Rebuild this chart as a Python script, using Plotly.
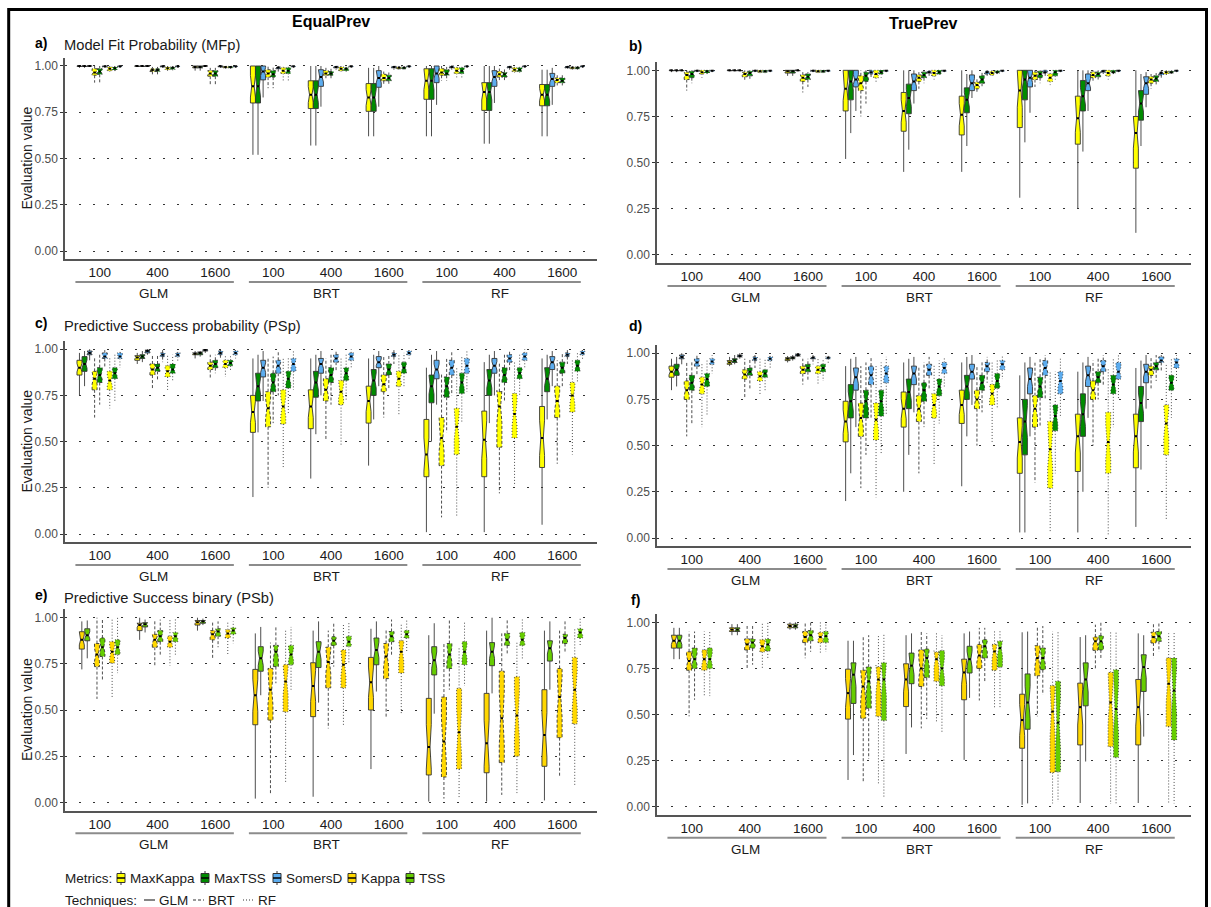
import plotly.graph_objects as go

# ---------------- data ----------------
SIZES = ["100", "400", "1600"]
MODELS = ["GLM", "BRT", "RF"]
TECHNIQUES = ["GLM", "BRT", "RF"]          # line types inside each x group
METRICS_PROB = ["MaxKappa", "MaxTSS", "SomersD"]
METRICS_BIN = ["Kappa", "TSS"]

# each list: 9 x groups (GLM100 ... RF1600); per group 3 techniques (GLM, BRT, RF)
# each tuple: (lower whisker, Q1, median, Q3, upper whisker)
A_MAXKAPPA = [
    [(0.99, 0.998, 1.0, 1.0, 1.0), (0.91, 0.95, 0.965, 0.985, 1.0), (0.96, 0.975, 0.985, 0.995, 1.0)],
    [(0.995, 0.998, 1.0, 1.0, 1.0), (0.955, 0.97, 0.978, 0.985, 0.995), (0.97, 0.98, 0.988, 0.995, 1.0)],
    [(0.975, 0.99, 0.995, 1.0, 1.0), (0.90, 0.945, 0.96, 0.975, 0.99), (0.985, 0.99, 0.995, 0.998, 1.0)],
    [(0.52, 0.80, 0.89, 1.0, 1.0), (0.88, 0.94, 0.96, 0.98, 1.0), (0.92, 0.96, 0.975, 0.99, 1.0)],
    [(0.57, 0.77, 0.845, 0.92, 1.0), (0.93, 0.95, 0.96, 0.975, 0.99), (0.96, 0.975, 0.985, 0.995, 1.0)],
    [(0.62, 0.755, 0.83, 0.905, 0.99), (0.90, 0.92, 0.935, 0.955, 0.97), (0.975, 0.985, 0.99, 0.995, 1.0)],
    [(0.62, 0.82, 0.92, 0.985, 1.0), (0.92, 0.95, 0.965, 0.985, 1.0), (0.93, 0.96, 0.975, 0.99, 1.0)],
    [(0.58, 0.76, 0.86, 0.91, 1.0), (0.92, 0.94, 0.955, 0.97, 0.99), (0.96, 0.97, 0.98, 0.99, 1.0)],
    [(0.62, 0.785, 0.845, 0.90, 0.98), (0.895, 0.91, 0.925, 0.935, 0.95), (0.98, 0.985, 0.99, 0.995, 1.0)],
]
A_MAXTSS = [
    [(0.99, 0.998, 1.0, 1.0, 1.0), (0.91, 0.955, 0.97, 0.985, 1.0), (0.965, 0.978, 0.988, 0.995, 1.0)],
    [(0.995, 0.998, 1.0, 1.0, 1.0), (0.955, 0.97, 0.978, 0.985, 0.995), (0.97, 0.982, 0.99, 0.995, 1.0)],
    [(0.975, 0.99, 0.995, 1.0, 1.0), (0.90, 0.945, 0.96, 0.975, 0.99), (0.985, 0.99, 0.995, 0.998, 1.0)],
    [(0.52, 0.80, 0.89, 1.0, 1.0), (0.88, 0.94, 0.955, 0.975, 0.995), (0.92, 0.96, 0.975, 0.99, 1.0)],
    [(0.57, 0.77, 0.845, 0.92, 1.0), (0.93, 0.95, 0.96, 0.97, 0.985), (0.96, 0.975, 0.985, 0.99, 1.0)],
    [(0.62, 0.755, 0.83, 0.905, 0.99), (0.90, 0.92, 0.935, 0.95, 0.965), (0.975, 0.985, 0.99, 0.995, 1.0)],
    [(0.62, 0.82, 0.92, 0.985, 1.0), (0.92, 0.95, 0.96, 0.98, 0.995), (0.93, 0.96, 0.975, 0.99, 1.0)],
    [(0.58, 0.76, 0.86, 0.91, 1.0), (0.92, 0.94, 0.955, 0.965, 0.985), (0.96, 0.97, 0.98, 0.99, 1.0)],
    [(0.62, 0.785, 0.845, 0.90, 0.98), (0.895, 0.91, 0.92, 0.935, 0.95), (0.98, 0.985, 0.99, 0.995, 1.0)],
]
A_SOMERSD = [
    [(0.998, 0.999, 1.0, 1.0, 1.0), (0.99, 0.995, 0.998, 1.0, 1.0), (0.99, 0.995, 0.998, 1.0, 1.0)],
    [(0.998, 0.999, 1.0, 1.0, 1.0), (0.99, 0.995, 0.998, 1.0, 1.0), (0.99, 0.995, 0.998, 1.0, 1.0)],
    [(0.998, 0.999, 1.0, 1.0, 1.0), (0.99, 0.995, 0.998, 1.0, 1.0), (0.99, 0.995, 0.998, 1.0, 1.0)],
    [(0.83, 0.925, 0.97, 1.0, 1.0), (0.97, 0.985, 0.99, 0.995, 1.0), (0.99, 0.995, 0.998, 1.0, 1.0)],
    [(0.78, 0.89, 0.94, 0.98, 1.0), (0.98, 0.99, 0.995, 0.998, 1.0), (0.99, 0.995, 0.998, 1.0, 1.0)],
    [(0.78, 0.885, 0.935, 0.975, 1.0), (0.98, 0.99, 0.995, 0.998, 1.0), (0.99, 0.995, 0.998, 1.0, 1.0)],
    [(0.79, 0.91, 0.96, 1.0, 1.0), (0.98, 0.99, 0.995, 1.0, 1.0), (0.99, 0.995, 0.998, 1.0, 1.0)],
    [(0.80, 0.89, 0.94, 0.975, 1.0), (0.98, 0.99, 0.995, 0.998, 1.0), (0.99, 0.995, 0.998, 1.0, 1.0)],
    [(0.79, 0.89, 0.93, 0.96, 0.99), (0.985, 0.99, 0.995, 0.998, 1.0), (0.99, 0.995, 0.998, 1.0, 1.0)],
]

B_MAXKAPPA = [
    [(0.99, 0.998, 1.0, 1.0, 1.0), (0.89, 0.95, 0.975, 0.99, 1.0), (0.96, 0.98, 0.99, 1.0, 1.0)],
    [(0.995, 0.998, 1.0, 1.0, 1.0), (0.94, 0.965, 0.98, 0.99, 1.0), (0.98, 0.99, 0.995, 1.0, 1.0)],
    [(0.97, 0.985, 0.995, 1.0, 1.0), (0.88, 0.94, 0.96, 0.975, 0.99), (0.985, 0.99, 0.995, 1.0, 1.0)],
    [(0.52, 0.78, 0.90, 1.0, 1.0), (0.75, 0.89, 0.93, 0.97, 1.0), (0.93, 0.96, 0.98, 1.0, 1.0)],
    [(0.45, 0.67, 0.78, 0.88, 1.0), (0.90, 0.94, 0.96, 0.975, 0.99), (0.95, 0.97, 0.985, 1.0, 1.0)],
    [(0.45, 0.65, 0.76, 0.86, 1.0), (0.88, 0.90, 0.92, 0.935, 0.96), (0.96, 0.975, 0.985, 0.995, 1.0)],
    [(0.31, 0.69, 0.89, 1.0, 1.0), (0.91, 0.95, 0.97, 0.99, 1.0), (0.92, 0.94, 0.96, 0.98, 1.0)],
    [(0.25, 0.60, 0.74, 0.86, 1.0), (0.94, 0.96, 0.975, 0.99, 1.0), (0.95, 0.97, 0.985, 1.0, 1.0)],
    [(0.12, 0.47, 0.66, 0.75, 1.0), (0.90, 0.93, 0.95, 0.965, 0.98), (0.97, 0.98, 0.99, 0.995, 1.0)],
]
B_MAXTSS = [
    [(0.99, 0.998, 1.0, 1.0, 1.0), (0.93, 0.96, 0.98, 0.995, 1.0), (0.97, 0.985, 0.995, 1.0, 1.0)],
    [(0.995, 0.998, 1.0, 1.0, 1.0), (0.95, 0.97, 0.985, 0.995, 1.0), (0.98, 0.99, 0.995, 1.0, 1.0)],
    [(0.97, 0.985, 0.995, 1.0, 1.0), (0.91, 0.95, 0.965, 0.98, 0.99), (0.985, 0.99, 0.995, 1.0, 1.0)],
    [(0.66, 0.84, 0.94, 1.0, 1.0), (0.82, 0.94, 0.97, 0.99, 1.0), (0.96, 0.98, 0.99, 1.0, 1.0)],
    [(0.57, 0.765, 0.85, 0.925, 1.0), (0.93, 0.96, 0.975, 0.99, 1.0), (0.97, 0.98, 0.99, 1.0, 1.0)],
    [(0.59, 0.77, 0.84, 0.905, 0.98), (0.91, 0.93, 0.95, 0.97, 0.99), (0.97, 0.985, 0.99, 0.998, 1.0)],
    [(0.61, 0.84, 0.95, 1.0, 1.0), (0.93, 0.96, 0.98, 0.995, 1.0), (0.95, 0.97, 0.99, 1.0, 1.0)],
    [(0.56, 0.78, 0.86, 0.945, 1.0), (0.95, 0.965, 0.98, 0.99, 1.0), (0.97, 0.985, 0.99, 1.0, 1.0)],
    [(0.59, 0.73, 0.82, 0.89, 0.98), (0.92, 0.94, 0.955, 0.97, 0.985), (0.98, 0.985, 0.99, 0.995, 1.0)],
]
B_SOMERSD = [
    [(0.995, 0.998, 1.0, 1.0, 1.0), (0.99, 0.995, 0.998, 1.0, 1.0), (0.99, 0.995, 0.998, 1.0, 1.0)],
    [(0.995, 0.998, 1.0, 1.0, 1.0), (0.99, 0.995, 0.998, 1.0, 1.0), (0.99, 0.995, 0.998, 1.0, 1.0)],
    [(0.995, 0.998, 1.0, 1.0, 1.0), (0.99, 0.995, 0.998, 1.0, 1.0), (0.99, 0.995, 0.998, 1.0, 1.0)],
    [(0.78, 0.91, 0.95, 1.0, 1.0), (0.96, 0.98, 0.99, 1.0, 1.0), (0.99, 0.995, 0.998, 1.0, 1.0)],
    [(0.82, 0.89, 0.94, 0.98, 1.0), (0.97, 0.985, 0.99, 0.995, 1.0), (0.99, 0.995, 0.998, 1.0, 1.0)],
    [(0.85, 0.89, 0.93, 0.975, 1.0), (0.97, 0.98, 0.99, 0.995, 1.0), (0.99, 0.995, 0.998, 1.0, 1.0)],
    [(0.77, 0.91, 0.96, 1.0, 1.0), (0.97, 0.985, 0.99, 1.0, 1.0), (0.99, 0.995, 0.998, 1.0, 1.0)],
    [(0.78, 0.89, 0.93, 0.98, 1.0), (0.98, 0.99, 0.995, 1.0, 1.0), (0.99, 0.995, 0.998, 1.0, 1.0)],
    [(0.80, 0.87, 0.93, 0.965, 0.99), (0.96, 0.975, 0.985, 0.99, 1.0), (0.99, 0.995, 0.998, 1.0, 1.0)],
]

C_MAXKAPPA = [
    [(0.75, 0.86, 0.90, 0.94, 0.98), (0.63, 0.78, 0.84, 0.88, 0.96), (0.68, 0.78, 0.83, 0.88, 0.96)],
    [(0.92, 0.94, 0.955, 0.965, 0.98), (0.78, 0.86, 0.89, 0.92, 0.97), (0.78, 0.85, 0.88, 0.91, 0.97)],
    [(0.95, 0.97, 0.975, 0.98, 0.99), (0.84, 0.89, 0.91, 0.93, 0.97), (0.85, 0.90, 0.92, 0.94, 0.97)],
    [(0.20, 0.55, 0.66, 0.75, 0.95), (0.25, 0.58, 0.68, 0.77, 0.95), (0.36, 0.595, 0.69, 0.78, 0.95)],
    [(0.30, 0.57, 0.69, 0.78, 0.95), (0.51, 0.72, 0.78, 0.84, 0.95), (0.48, 0.70, 0.77, 0.83, 0.95)],
    [(0.37, 0.60, 0.72, 0.80, 0.95), (0.63, 0.77, 0.81, 0.86, 0.96), (0.64, 0.80, 0.84, 0.88, 0.97)],
    [(0.01, 0.31, 0.43, 0.62, 0.90), (0.09, 0.37, 0.52, 0.63, 0.87), (0.09, 0.43, 0.58, 0.68, 0.90)],
    [(0.01, 0.31, 0.51, 0.665, 0.93), (0.22, 0.47, 0.69, 0.77, 0.93), (0.26, 0.52, 0.65, 0.76, 0.93)],
    [(0.05, 0.36, 0.52, 0.69, 0.95), (0.38, 0.63, 0.72, 0.80, 0.94), (0.43, 0.66, 0.75, 0.82, 0.95)],
]
C_MAXTSS = [
    [(0.80, 0.88, 0.92, 0.96, 0.99), (0.70, 0.82, 0.86, 0.90, 0.97), (0.72, 0.84, 0.87, 0.90, 0.97)],
    [(0.93, 0.95, 0.96, 0.97, 0.99), (0.83, 0.88, 0.90, 0.92, 0.97), (0.83, 0.87, 0.89, 0.92, 0.97)],
    [(0.96, 0.97, 0.98, 0.985, 0.99), (0.87, 0.90, 0.92, 0.94, 0.97), (0.88, 0.91, 0.925, 0.94, 0.97)],
    [(0.55, 0.72, 0.80, 0.87, 0.97), (0.60, 0.77, 0.82, 0.87, 0.96), (0.65, 0.79, 0.84, 0.88, 0.96)],
    [(0.54, 0.74, 0.82, 0.88, 0.97), (0.70, 0.82, 0.86, 0.90, 0.97), (0.72, 0.83, 0.87, 0.90, 0.97)],
    [(0.62, 0.75, 0.83, 0.89, 0.97), (0.78, 0.86, 0.89, 0.92, 0.97), (0.80, 0.87, 0.90, 0.93, 0.98)],
    [(0.50, 0.71, 0.80, 0.86, 0.97), (0.55, 0.74, 0.80, 0.85, 0.95), (0.60, 0.76, 0.82, 0.87, 0.96)],
    [(0.60, 0.75, 0.83, 0.89, 0.97), (0.72, 0.82, 0.86, 0.90, 0.97), (0.75, 0.84, 0.87, 0.90, 0.97)],
    [(0.62, 0.77, 0.84, 0.90, 0.97), (0.80, 0.87, 0.90, 0.93, 0.98), (0.82, 0.88, 0.91, 0.94, 0.98)],
]
C_SOMERSD = [
    [(0.94, 0.97, 0.98, 0.99, 1.0), (0.90, 0.95, 0.96, 0.98, 0.995), (0.90, 0.95, 0.96, 0.98, 0.995)],
    [(0.97, 0.98, 0.99, 0.995, 1.0), (0.93, 0.96, 0.97, 0.98, 0.995), (0.93, 0.96, 0.97, 0.98, 0.995)],
    [(0.98, 0.99, 0.995, 0.998, 1.0), (0.95, 0.97, 0.98, 0.99, 1.0), (0.95, 0.97, 0.98, 0.99, 1.0)],
    [(0.72, 0.85, 0.90, 0.94, 0.99), (0.75, 0.87, 0.91, 0.94, 0.99), (0.78, 0.88, 0.92, 0.95, 0.99)],
    [(0.75, 0.87, 0.92, 0.95, 0.99), (0.88, 0.93, 0.95, 0.97, 0.99), (0.90, 0.94, 0.96, 0.98, 1.0)],
    [(0.80, 0.90, 0.93, 0.96, 0.99), (0.92, 0.96, 0.97, 0.98, 0.995), (0.94, 0.97, 0.98, 0.99, 1.0)],
    [(0.70, 0.84, 0.89, 0.94, 0.99), (0.75, 0.86, 0.90, 0.94, 0.99), (0.77, 0.87, 0.91, 0.95, 0.99)],
    [(0.75, 0.87, 0.91, 0.95, 0.99), (0.88, 0.93, 0.95, 0.97, 0.99), (0.90, 0.94, 0.96, 0.98, 1.0)],
    [(0.80, 0.89, 0.93, 0.96, 0.99), (0.92, 0.96, 0.97, 0.98, 0.995), (0.94, 0.97, 0.98, 0.99, 1.0)],
]

D_MAXKAPPA = [
    [(0.80, 0.87, 0.90, 0.93, 0.97), (0.55, 0.75, 0.80, 0.85, 0.95), (0.60, 0.78, 0.83, 0.87, 0.95)],
    [(0.93, 0.94, 0.95, 0.96, 0.98), (0.76, 0.86, 0.885, 0.91, 0.97), (0.77, 0.85, 0.875, 0.90, 0.97)],
    [(0.95, 0.96, 0.97, 0.975, 0.985), (0.83, 0.89, 0.91, 0.93, 0.97), (0.83, 0.89, 0.91, 0.93, 0.97)],
    [(0.20, 0.52, 0.63, 0.74, 0.93), (0.27, 0.55, 0.65, 0.73, 0.93), (0.22, 0.53, 0.64, 0.73, 0.93)],
    [(0.25, 0.60, 0.70, 0.79, 0.95), (0.35, 0.63, 0.70, 0.77, 0.93), (0.40, 0.65, 0.72, 0.78, 0.94)],
    [(0.28, 0.62, 0.72, 0.80, 0.95), (0.50, 0.70, 0.75, 0.80, 0.93), (0.52, 0.72, 0.78, 0.83, 0.95)],
    [(0.03, 0.35, 0.52, 0.65, 0.88), (0.30, 0.60, 0.70, 0.77, 0.95), (0.03, 0.27, 0.48, 0.63, 0.90)],
    [(0.03, 0.36, 0.55, 0.67, 0.90), (0.50, 0.75, 0.80, 0.85, 0.96), (0.02, 0.35, 0.52, 0.68, 0.92)],
    [(0.06, 0.38, 0.55, 0.67, 0.92), (0.80, 0.88, 0.91, 0.93, 0.98), (0.10, 0.45, 0.62, 0.72, 0.94)],
]
D_MAXTSS = [
    [(0.82, 0.88, 0.91, 0.94, 0.98), (0.62, 0.80, 0.84, 0.88, 0.96), (0.66, 0.82, 0.86, 0.89, 0.96)],
    [(0.94, 0.95, 0.96, 0.97, 0.99), (0.80, 0.88, 0.90, 0.92, 0.97), (0.80, 0.87, 0.89, 0.91, 0.97)],
    [(0.96, 0.97, 0.975, 0.98, 0.99), (0.85, 0.90, 0.92, 0.94, 0.97), (0.85, 0.90, 0.92, 0.94, 0.97)],
    [(0.35, 0.65, 0.74, 0.83, 0.97), (0.45, 0.65, 0.74, 0.80, 0.95), (0.45, 0.66, 0.74, 0.80, 0.95)],
    [(0.45, 0.70, 0.79, 0.86, 0.97), (0.60, 0.74, 0.80, 0.84, 0.95), (0.62, 0.77, 0.82, 0.86, 0.96)],
    [(0.55, 0.75, 0.82, 0.88, 0.98), (0.68, 0.80, 0.84, 0.88, 0.96), (0.70, 0.81, 0.85, 0.89, 0.97)],
    [(0.03, 0.45, 0.63, 0.75, 0.95), (0.60, 0.76, 0.82, 0.87, 0.97), (0.35, 0.58, 0.66, 0.72, 0.90)],
    [(0.25, 0.55, 0.67, 0.78, 0.95), (0.75, 0.84, 0.87, 0.90, 0.97), (0.60, 0.78, 0.83, 0.88, 0.97)],
    [(0.37, 0.63, 0.73, 0.82, 0.96), (0.85, 0.91, 0.93, 0.95, 0.99), (0.65, 0.80, 0.84, 0.88, 0.97)],
]
D_SOMERSD = [
    [(0.94, 0.97, 0.98, 0.99, 1.0), (0.88, 0.93, 0.95, 0.97, 0.99), (0.89, 0.94, 0.955, 0.97, 0.99)],
    [(0.97, 0.98, 0.985, 0.99, 1.0), (0.92, 0.96, 0.97, 0.98, 0.99), (0.92, 0.96, 0.97, 0.98, 0.99)],
    [(0.98, 0.985, 0.99, 0.995, 1.0), (0.94, 0.97, 0.975, 0.98, 0.99), (0.94, 0.97, 0.975, 0.98, 0.99)],
    [(0.60, 0.80, 0.87, 0.92, 0.98), (0.65, 0.83, 0.88, 0.93, 0.98), (0.67, 0.84, 0.89, 0.93, 0.98)],
    [(0.68, 0.83, 0.89, 0.93, 0.98), (0.80, 0.88, 0.91, 0.94, 0.98), (0.82, 0.89, 0.92, 0.95, 0.98)],
    [(0.72, 0.86, 0.90, 0.94, 0.99), (0.84, 0.90, 0.93, 0.95, 0.98), (0.86, 0.91, 0.94, 0.96, 0.99)],
    [(0.55, 0.78, 0.86, 0.92, 0.98), (0.75, 0.88, 0.92, 0.96, 0.99), (0.65, 0.78, 0.85, 0.90, 0.97)],
    [(0.65, 0.82, 0.88, 0.93, 0.98), (0.82, 0.90, 0.93, 0.96, 0.99), (0.75, 0.86, 0.90, 0.95, 0.99)],
    [(0.70, 0.84, 0.90, 0.94, 0.99), (0.90, 0.95, 0.96, 0.98, 0.99), (0.84, 0.92, 0.95, 0.97, 0.99)],
]

E_KAPPA = [
    [(0.72, 0.83, 0.88, 0.924, 0.98), (0.56, 0.735, 0.80, 0.86, 1.0), (0.57, 0.755, 0.815, 0.87, 0.99)],
    [(0.88, 0.93, 0.96, 0.97, 1.0), (0.74, 0.84, 0.88, 0.91, 0.99), (0.74, 0.84, 0.87, 0.90, 0.99)],
    [(0.93, 0.96, 0.975, 0.985, 1.0), (0.78, 0.88, 0.91, 0.93, 0.98), (0.80, 0.89, 0.915, 0.935, 0.98)],
    [(0.02, 0.42, 0.58, 0.72, 0.915), (0.04, 0.445, 0.61, 0.725, 0.865), (0.11, 0.49, 0.655, 0.745, 0.93)],
    [(0.03, 0.464, 0.63, 0.756, 0.93), (0.40, 0.62, 0.76, 0.84, 0.93), (0.41, 0.62, 0.745, 0.825, 0.97)],
    [(0.18, 0.50, 0.65, 0.785, 0.94), (0.455, 0.67, 0.79, 0.86, 0.94), (0.48, 0.70, 0.815, 0.875, 0.97)],
    [(0.004, 0.148, 0.30, 0.563, 0.905), (0.02, 0.137, 0.33, 0.57, 0.86), (0.02, 0.18, 0.38, 0.617, 0.84)],
    [(0.004, 0.16, 0.32, 0.59, 0.93), (0.04, 0.215, 0.455, 0.71, 0.915), (0.05, 0.25, 0.47, 0.68, 0.87)],
    [(0.01, 0.195, 0.365, 0.61, 0.93), (0.14, 0.35, 0.57, 0.725, 0.93), (0.09, 0.425, 0.61, 0.785, 0.94)],
]
E_TSS = [
    [(0.78, 0.875, 0.905, 0.94, 0.985), (0.66, 0.79, 0.84, 0.89, 0.99), (0.70, 0.80, 0.84, 0.88, 1.0)],
    [(0.92, 0.95, 0.965, 0.973, 0.99), (0.80, 0.87, 0.90, 0.93, 0.99), (0.80, 0.87, 0.90, 0.92, 1.0)],
    [(0.96, 0.97, 0.98, 0.985, 0.995), (0.84, 0.90, 0.925, 0.94, 0.98), (0.86, 0.91, 0.93, 0.945, 0.98)],
    [(0.58, 0.71, 0.78, 0.843, 0.95), (0.645, 0.735, 0.815, 0.85, 0.95), (0.61, 0.745, 0.80, 0.85, 0.95)],
    [(0.54, 0.73, 0.815, 0.87, 0.98), (0.735, 0.85, 0.875, 0.897, 0.97), (0.75, 0.845, 0.87, 0.90, 0.98)],
    [(0.60, 0.745, 0.825, 0.89, 0.98), (0.79, 0.87, 0.90, 0.925, 0.99), (0.815, 0.89, 0.91, 0.93, 0.99)],
    [(0.48, 0.69, 0.77, 0.843, 0.97), (0.61, 0.725, 0.80, 0.86, 0.99), (0.63, 0.745, 0.815, 0.87, 0.98)],
    [(0.59, 0.74, 0.815, 0.865, 1.0), (0.80, 0.85, 0.88, 0.915, 0.99), (0.77, 0.85, 0.88, 0.92, 0.99)],
    [(0.61, 0.765, 0.835, 0.875, 0.98), (0.815, 0.86, 0.89, 0.91, 0.98), (0.845, 0.89, 0.92, 0.94, 1.0)],
]

F_KAPPA = [
    [(0.80, 0.86, 0.90, 0.93, 0.97), (0.49, 0.74, 0.79, 0.84, 0.95), (0.60, 0.74, 0.80, 0.85, 0.95)],
    [(0.93, 0.95, 0.96, 0.97, 0.99), (0.75, 0.85, 0.88, 0.91, 0.98), (0.75, 0.84, 0.87, 0.905, 1.0)],
    [(0.96, 0.97, 0.98, 0.99, 1.0), (0.805, 0.89, 0.92, 0.95, 1.0), (0.825, 0.89, 0.92, 0.945, 1.0)],
    [(0.145, 0.475, 0.616, 0.746, 0.90), (0.136, 0.48, 0.652, 0.74, 0.924), (0.127, 0.49, 0.69, 0.757, 0.93)],
    [(0.286, 0.543, 0.69, 0.775, 0.93), (0.425, 0.652, 0.75, 0.85, 0.95), (0.46, 0.68, 0.80, 0.837, 0.94)],
    [(0.254, 0.58, 0.728, 0.80, 0.94), (0.576, 0.75, 0.82, 0.88, 0.97), (0.534, 0.74, 0.842, 0.88, 0.96)],
    [(0.01, 0.317, 0.47, 0.61, 0.946), (0.49, 0.71, 0.806, 0.873, 0.98), (0.018, 0.185, 0.516, 0.656, 0.95)],
    [(0.02, 0.335, 0.54, 0.67, 0.92), (0.743, 0.848, 0.897, 0.92, 0.987), (0.015, 0.326, 0.565, 0.728, 0.946)],
    [(0.02, 0.335, 0.54, 0.69, 0.94), (0.806, 0.888, 0.92, 0.946, 0.996), (0.02, 0.435, 0.667, 0.806, 0.94)],
]
F_TSS = [
    [(0.80, 0.86, 0.90, 0.93, 0.97), (0.58, 0.75, 0.80, 0.86, 0.95), (0.60, 0.75, 0.80, 0.86, 0.95)],
    [(0.93, 0.95, 0.96, 0.97, 0.99), (0.77, 0.86, 0.89, 0.91, 0.98), (0.80, 0.845, 0.88, 0.91, 1.0)],
    [(0.96, 0.97, 0.98, 0.99, 1.0), (0.84, 0.90, 0.93, 0.955, 1.0), (0.84, 0.89, 0.925, 0.95, 1.0)],
    [(0.28, 0.56, 0.716, 0.78, 0.90), (0.26, 0.534, 0.68, 0.757, 0.93), (0.045, 0.467, 0.69, 0.78, 0.94)],
    [(0.43, 0.667, 0.765, 0.833, 0.94), (0.475, 0.70, 0.806, 0.855, 0.94), (0.40, 0.656, 0.75, 0.846, 0.93)],
    [(0.59, 0.725, 0.80, 0.87, 0.95), (0.68, 0.806, 0.87, 0.906, 0.97), (0.534, 0.757, 0.86, 0.897, 0.96)],
    [(0.018, 0.42, 0.565, 0.72, 0.95), (0.607, 0.743, 0.806, 0.86, 0.98), (0.027, 0.19, 0.456, 0.68, 0.95)],
    [(0.245, 0.547, 0.69, 0.78, 0.93), (0.797, 0.85, 0.897, 0.927, 1.0), (0.015, 0.268, 0.53, 0.743, 0.946)],
    [(0.38, 0.625, 0.757, 0.824, 0.93), (0.842, 0.897, 0.924, 0.95, 0.996), (0.018, 0.362, 0.63, 0.806, 0.946)],
]

PANELS = [
    # letter, subtitle, {metric: data}
    ("a)", "Model Fit Probability (MFp)", {"MaxKappa": A_MAXKAPPA, "MaxTSS": A_MAXTSS, "SomersD": A_SOMERSD}),
    ("b)", "", {"MaxKappa": B_MAXKAPPA, "MaxTSS": B_MAXTSS, "SomersD": B_SOMERSD}),
    ("c)", "Predictive Success probability (PSp)", {"MaxKappa": C_MAXKAPPA, "MaxTSS": C_MAXTSS, "SomersD": C_SOMERSD}),
    ("d)", "", {"MaxKappa": D_MAXKAPPA, "MaxTSS": D_MAXTSS, "SomersD": D_SOMERSD}),
    ("e)", "Predictive Success binary (PSb)", {"Kappa": E_KAPPA, "TSS": E_TSS}),
    ("f)", "", {"Kappa": F_KAPPA, "TSS": F_TSS}),
]

# ---------------- style ----------------
COLORS = {"MaxKappa": "#FFFF00", "MaxTSS": "#008B00", "SomersD": "#5CACEE",
          "Kappa": "#FFD700", "TSS": "#66CD00"}
DASHES = {"GLM": "solid", "BRT": "3px,2px", "RF": "1px,2px"}
FONT = "Liberation Sans, Arial, sans-serif"
W, H = 1211, 907

def px(x):
    return x / W

def py(y):
    return 1 - y / H

# pixel geometry: (x-left, x-right) of columns, y pixel of value 1 and value 0 for each panel
COLS = [(65, 597), (657, 1191)]
ROWS = [(66, 251), (70.3, 255), (349.2, 534), (353.2, 538), (617.7, 802.3), (622.3, 806.7)]
LETTER_DY = [23, 24, 26, 27, 22.7, 22]     # label offset above the 1.00 line
YLO, YHI = -0.045, 1.045
XLO, XHI = -0.6, 8.6

fig = go.Figure()
layout = dict(width=W, height=H, margin=dict(l=0, r=0, t=0, b=0),
              paper_bgcolor="white", plot_bgcolor="white", showlegend=False,
              font=dict(family=FONT, color="#000000"))
shapes, annotations = [], []

TECH_OFF = [-0.262, 0.0, 0.262]
HW = 0.043
NOTCH = 0.29

for p, (letter, subtitle, metrics) in enumerate(PANELS):
    col = p % 2
    ax = "" if p == 0 else str(p + 1)
    xl, xr = COLS[col]
    y1, y0 = ROWS[p]
    u = y0 - y1
    top = y1 - (YHI - 1) * u
    bot = y0 - YLO * u
    layout["xaxis" + ax] = dict(domain=[px(xl), px(xr)], range=[XLO, XHI], anchor="y" + ax,
                                tickmode="array", tickvals=list(range(9)), ticktext=SIZES * 3,
                                ticks="", showline=True, linecolor="#555555", linewidth=1.5,
                                showgrid=False, zeroline=False,
                                tickfont=dict(size=13.5, color="#1a1a1a", family=FONT))
    layout["yaxis" + ax] = dict(domain=[py(bot), py(top)], range=[YLO, YHI], anchor="x" + ax,
                                tickmode="array", tickvals=[0, 0.25, 0.5, 0.75, 1.0],
                                ticktext=["0.00", "0.25", "0.50", "0.75", "1.00"],
                                ticks="outside", ticklen=3, tickcolor="#333333", tickwidth=1,
                                showline=True, linecolor="#555555", linewidth=1.5,
                                showgrid=True, gridcolor="#333333", gridwidth=1.3, griddash="2px,12px",
                                zeroline=False, tickfont=dict(size=12, color="#4d4d4d", family=FONT))
    names = list(metrics.keys())
    nm = len(names)
    moff = [-0.088, 0.0, 0.088] if nm == 3 else [-0.047, 0.047]
    med_x, med_y = [], []
    for ti, tech in enumerate(TECHNIQUES):
        for mi, mname in enumerate(names):
            data = metrics[mname]
            bx, by, wx, wy = [], [], [], []
            for g in range(9):
                lo, q1, med, q3, hi = data[g][ti]
                c = g + TECH_OFF[ti] + moff[mi]
                iqr = q3 - q1
                nlo, nhi = med - NOTCH * iqr, med + NOTCH * iqr
                bx += [c - HW, c - HW, c - HW / 2, c - HW, c - HW, c + HW, c + HW, c + HW / 2, c + HW, c + HW, c - HW, None]
                by += [q1, nlo, med, nhi, q3, q3, nhi, med, nlo, q1, q1, None]
                wx += [c, c, None, c, c, None]
                wy += [q3, hi, None, q1, lo, None]
                med_x += [c - HW / 2, c + HW / 2, None]
                med_y += [med, med, None]
            fig.add_trace(go.Scatter(x=wx, y=wy, mode="lines", xaxis="x" + ax, yaxis="y" + ax,
                                     line=dict(color="#3a3a3a", width=0.9, dash=DASHES[tech]),
                                     hoverinfo="skip", showlegend=False))
            fig.add_trace(go.Scatter(x=bx, y=by, mode="lines", fill="toself", fillcolor=COLORS[mname],
                                     xaxis="x" + ax, yaxis="y" + ax,
                                     line=dict(color="#333333", width=0.9, dash=DASHES[tech]),
                                     name=f"{mname} {tech}", showlegend=False))
    fig.add_trace(go.Scatter(x=med_x, y=med_y, mode="lines", xaxis="x" + ax, yaxis="y" + ax,
                             line=dict(color="#000000", width=2), hoverinfo="skip", showlegend=False))

    # group underlines and labels
    for gi, model in enumerate(MODELS):
        shapes.append(dict(type="line", xref="x" + ax, yref="paper",
                           x0=3 * gi - 0.42, x1=3 * gi + 2.32, y0=py(y0 + 31), y1=py(y0 + 31),
                           line=dict(color="#8c8c8c", width=2)))
        annotations.append(dict(text=model, xref="x" + ax, yref="paper", x=3 * gi + 0.93, y=py(y0 + 42.5),
                                showarrow=False, xanchor="center", yanchor="middle",
                                font=dict(size=13.5, color="#1a1a1a", family=FONT)))
    # panel letter & subtitle
    lx = 41 if col == 0 else 635
    annotations.append(dict(text=f"<b>{letter}</b>", xref="paper", yref="paper", x=px(lx),
                            y=py(y1 - LETTER_DY[p]), showarrow=False, xanchor="center", yanchor="middle",
                            font=dict(size=14, color="#000000", family=FONT)))
    if subtitle:
        annotations.append(dict(text=subtitle, xref="paper", yref="paper", x=px(62),
                                y=py(y1 - LETTER_DY[p] + 2.5), showarrow=False, xanchor="left",
                                yanchor="middle", font=dict(size=14.7, color="#1a1a1a", family=FONT)))
    if col == 0:
        annotations.append(dict(text="Evaluation value", xref="paper", yref="paper", x=px(27),
                                y=py((y1 + y0) / 2), textangle=-90, showarrow=False,
                                xanchor="center", yanchor="middle",
                                font=dict(size=14, color="#1a1a1a", family=FONT)))

# column titles
annotations.append(dict(text="<b>EqualPrev</b>", xref="paper", yref="paper", x=px(331), y=py(22),
                        showarrow=False, xanchor="center", yanchor="middle",
                        font=dict(size=16, color="#000000", family=FONT)))
annotations.append(dict(text="<b>TruePrev</b>", xref="paper", yref="paper", x=px(924), y=py(23),
                        showarrow=False, xanchor="center", yanchor="middle",
                        font=dict(size=16, color="#000000", family=FONT)))

# ---------------- legend (manual, bottom-left) ----------------
LEG_Y1, LEG_Y2 = 878, 900
annotations.append(dict(text="Metrics:", xref="paper", yref="paper", x=px(63), y=py(LEG_Y1),
                        showarrow=False, xanchor="left", yanchor="middle",
                        font=dict(size=13.5, color="#1a1a1a", family=FONT)))
metric_icon_x = [121, 205, 277, 352, 410]
for name, ix in zip(["MaxKappa", "MaxTSS", "SomersD", "Kappa", "TSS"], metric_icon_x):
    shapes.append(dict(type="line", xref="paper", yref="paper", x0=px(ix), x1=px(ix),
                       y0=py(LEG_Y1 - 7), y1=py(LEG_Y1 + 7), line=dict(color="#333333", width=1)))
    shapes.append(dict(type="rect", xref="paper", yref="paper", x0=px(ix - 4), x1=px(ix + 4),
                       y0=py(LEG_Y1 - 4.5), y1=py(LEG_Y1 + 4.5), fillcolor=COLORS[name],
                       line=dict(color="#333333", width=1)))
    shapes.append(dict(type="line", xref="paper", yref="paper", x0=px(ix - 4), x1=px(ix + 4),
                       y0=py(LEG_Y1), y1=py(LEG_Y1), line=dict(color="#000000", width=1.5)))
    annotations.append(dict(text=name, xref="paper", yref="paper", x=px(ix + 7), y=py(LEG_Y1),
                            showarrow=False, xanchor="left", yanchor="middle",
                            font=dict(size=13.5, color="#1a1a1a", family=FONT)))
annotations.append(dict(text="Techniques:", xref="paper", yref="paper", x=px(63), y=py(LEG_Y2),
                        showarrow=False, xanchor="left", yanchor="middle",
                        font=dict(size=13.5, color="#1a1a1a", family=FONT)))
for tech, ix in zip(TECHNIQUES, [144, 193, 243]):
    shapes.append(dict(type="line", xref="paper", yref="paper", x0=px(ix), x1=px(ix + 11),
                       y0=py(LEG_Y2), y1=py(LEG_Y2), line=dict(color="#333333", width=1.2, dash=DASHES[tech])))
    annotations.append(dict(text=tech, xref="paper", yref="paper", x=px(ix + 13), y=py(LEG_Y2),
                            showarrow=False, xanchor="left", yanchor="middle",
                            font=dict(size=13.5, color="#1a1a1a", family=FONT)))

# outer frame
shapes.append(dict(type="rect", xref="paper", yref="paper", x0=px(8.7), x1=px(1206.5),
                   y0=py(930), y1=py(9.5), line=dict(color="#000000", width=3), layer="above"))

layout["shapes"] = shapes
layout["annotations"] = annotations
fig.update_layout(**layout)
fig.write_html("out.html")
